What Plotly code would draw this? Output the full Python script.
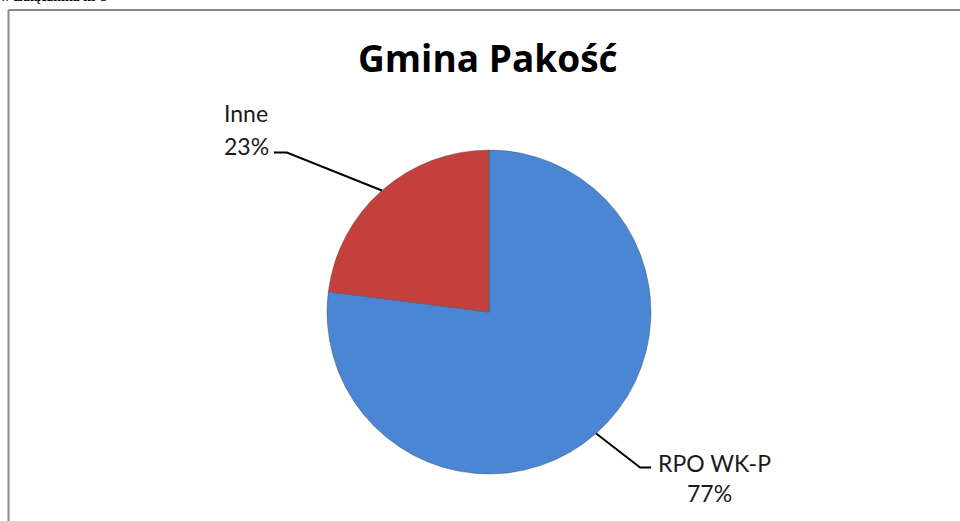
import math
import plotly.graph_objects as go

# ---- data ----
labels = ["RPO WK-P", "Inne"]
values = [77, 23]
pct_labels = ["77%", "23%"]
colors = ["#4A86D4", "#C4403D"]
title_text = "Gmina Pakość"
header_text = "w Załącznika nr 3"

W, H = 960, 521
CX, CY, R = 489, 312, 162  # pie centre / radius in px (layout)

def px(x):
    return x / W

def py(y):
    return 1 - y / H

fig = go.Figure()
fig.add_trace(go.Pie(
    labels=labels, values=values, sort=False, direction="clockwise",
    rotation=0, textinfo="none", hoverinfo="label+percent",
    marker=dict(colors=colors, line=dict(color="rgba(60,60,60,0.35)", width=1)),
    domain=dict(x=[px(CX - R), px(CX + R)], y=[py(CY + R), py(CY - R)]),
    showlegend=False,
))

# leader lines & labels computed from slice angles
total = sum(values)
cum = 0
shapes = []
annotations = []
label_font = dict(family="Lato", size=23, color="#1a1a1a")
# style offsets (px) for the elbows
elbow = {"RPO WK-P": (44, 34, 11), "Inne": (-95, -38, -13)}
for i, v in enumerate(values):
    a0 = 90 - 360 * cum / total
    cum += v
    a1 = 90 - 360 * cum / total
    am = math.radians((a0 + a1) / 2)
    ex = CX + R * math.cos(am)
    ey = CY - R * math.sin(am)
    dx, dy, hx = elbow[labels[i]]
    bx, by = ex + dx, ey + dy
    tx = bx + hx
    shapes.append(dict(type="path", xref="paper", yref="paper",
                       path=f"M {px(ex)},{py(ey)} L {px(bx)},{py(by)} L {px(tx)},{py(by)}",
                       line=dict(color="black", width=2)))
    if hx < 0:
        annotations.append(dict(x=px(tx - 52), y=py(by - 39), text=labels[i], xanchor="left",
                                yanchor="middle", showarrow=False, font=label_font))
        annotations.append(dict(x=px(tx - 52), y=py(by - 6), text=pct_labels[i], xanchor="left",
                                yanchor="middle", showarrow=False, font=label_font))
    else:
        annotations.append(dict(x=px(tx + 5), y=py(by - 5), text=labels[i], xanchor="left",
                                yanchor="middle", showarrow=False, font=label_font))
        annotations.append(dict(x=px(tx + 58), y=py(by + 25), text=pct_labels[i], xanchor="center",
                                yanchor="middle", showarrow=False, font=label_font))

# title
annotations.append(dict(x=px(488), y=py(58), text=f"<b>{title_text}</b>", showarrow=False,
                        xanchor="center", yanchor="middle",
                        font=dict(family="Open Sans", size=37, color="black")))
# cut-off header text at the very top
annotations.append(dict(x=px(-2), y=py(6), text=f"<b>{header_text}</b>", showarrow=False,
                        xanchor="left", yanchor="bottom",
                        font=dict(family="Liberation Serif", size=14, color="black")))

# outer border (left and top edges visible)
shapes.append(dict(type="line", xref="paper", yref="paper", x0=px(8.5), y0=py(10), x1=px(8.5), y1=py(530),
                   line=dict(color="#8a8a8a", width=2)))
shapes.append(dict(type="line", xref="paper", yref="paper", x0=px(8.5), y0=py(10), x1=px(970), y1=py(10),
                   line=dict(color="#8a8a8a", width=2)))

fig.update_layout(width=W, height=H, margin=dict(l=0, r=0, t=0, b=0),
                  paper_bgcolor="white", plot_bgcolor="white",
                  shapes=shapes, annotations=annotations)
fig.write_html("out.html", config={"displayModeBar": False},
               post_script="document.body.style.margin='0';")
